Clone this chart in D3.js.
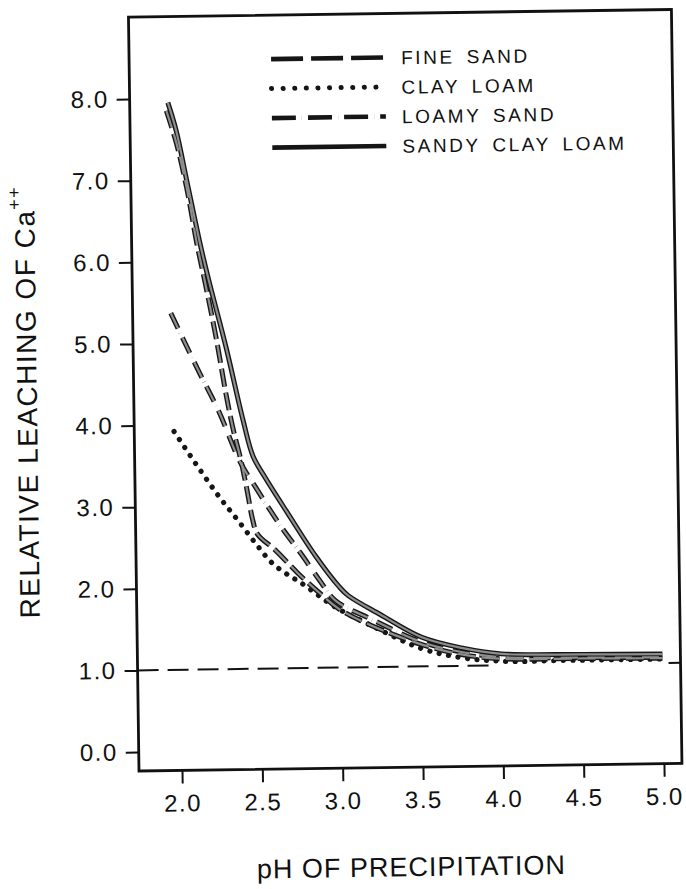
<!DOCTYPE html>
<html>
<head>
<meta charset="utf-8">
<script src="https://cdn.jsdelivr.net/npm/d3@7"></script>
<style>
body { margin: 0; background: #fff; }
svg { display: block; }
text { font-family: "Liberation Sans", Arial, Helvetica, sans-serif; fill: #111; }
</style>
</head>
<body>
<svg id="canvas" width="686" height="889"></svg>
<script>
// values: [pH, relative leaching]
let fineSand = [[1.96,7.85],[2.02,7.45],[2.08,6.9],[2.14,6.2],[2.19,5.7],[2.25,5.06],[2.31,4.33],[2.35,3.92],[2.39,3.59],[2.43,3.18],[2.46,2.84],[2.49,2.65],[2.6,2.45],[2.74,2.16],[2.87,1.92],[2.99,1.72],[3.18,1.52],[3.5,1.27],[3.75,1.14],[4.0,1.08],[4.5,1.07],[5.0,1.06]]
let clayLoam = [[1.98,3.92],[2.13,3.47],[2.26,3.1],[2.37,2.82],[2.48,2.53],[2.58,2.29],[2.68,2.14],[2.76,2.04],[2.97,1.74],[3.2,1.5],[3.5,1.22],[3.75,1.1],[4.0,1.05],[4.5,1.05],[5.0,1.05]]
let loamySand = [[1.97,5.37],[2.13,4.69],[2.26,4.16],[2.39,3.53],[2.49,3.2],[2.64,2.73],[2.76,2.4],[2.87,2.08],[2.97,1.82],[3.2,1.58],[3.5,1.3],[3.75,1.17],[4.0,1.1],[4.5,1.08],[5.0,1.07]]
let sandyClayLoam = [[1.97,7.95],[2.02,7.6],[2.08,7.0],[2.16,6.2],[2.21,5.76],[2.31,4.95],[2.41,4.05],[2.47,3.6],[2.54,3.35],[2.68,2.9],[2.85,2.37],[2.99,2.0],[3.05,1.88],[3.25,1.64],[3.5,1.36],[3.75,1.22],[4.0,1.14],[4.5,1.12],[5.0,1.11]]

let seriesNames = ["FINE SAND", "CLAY LOAM", "LOAMY SAND", "SANDY CLAY LOAM"]
let seriesData = [fineSand, clayLoam, loamySand, sandyClayLoam]
let seriesDash = ["18 6", "0.1 9.5", "17 5 0.1 5", null]

let xTicks = [2.0, 2.5, 3.0, 3.5, 4.0, 4.5, 5.0]
let yTicks = [0, 1, 2, 3, 4, 5, 6, 7, 8]
let referenceLevel = 1.0
let referenceBreak = [3.95, 5.0]

let svg = d3.select("#canvas")

let frameLeft = 139, frameRight = 682, frameTop = 17, frameBottom = 771

// the original is a slightly tilted scan
let chart = svg.append("g")
    .attr("transform", "rotate(-0.8," + frameLeft + "," + frameBottom + ")")

let x = d3.scaleLinear().domain([2, 5]).range([182, 664])
let y = d3.scaleLinear().domain([0, 8]).range([752, 99])

// frame
chart.append("path")
    .attr("d", "M" + frameLeft + "," + frameBottom + "V" + frameTop + "H" + frameRight + "V" + frameBottom + "Z")
    .attr("fill", "none")
    .attr("stroke", "#111")
    .attr("stroke-width", 2.8)

let xAxis = chart.append("g")
    .attr("transform", "translate(0," + frameBottom + ")")
    .call(d3.axisBottom(x).tickValues(xTicks).tickFormat(d3.format(".1f")).tickSize(13).tickPadding(11))
xAxis.select(".domain").remove()

let yAxis = chart.append("g")
    .attr("transform", "translate(" + frameLeft + ",0)")
    .call(d3.axisLeft(y).tickValues(yTicks).tickFormat(d3.format(".1f")).tickSize(13).tickPadding(8))
yAxis.select(".domain").remove()

chart.selectAll(".tick line").attr("stroke", "#111").attr("stroke-width", 2)
chart.selectAll(".tick text")
    .style("font-size", "24px")
    .style("letter-spacing", "1.5px")
    .attr("fill", "#111")

// reference line at 1.0, hidden where the curves run over it
chart.append("line")
    .attr("x1", frameLeft).attr("x2", x(referenceBreak[0]))
    .attr("y1", y(referenceLevel)).attr("y2", y(referenceLevel))
    .attr("stroke", "#111")
    .attr("stroke-width", 2)
    .attr("stroke-dasharray", "21 9")
chart.append("line")
    .attr("x1", x(referenceBreak[1]) + 6).attr("x2", frameRight)
    .attr("y1", y(referenceLevel)).attr("y2", y(referenceLevel))
    .attr("stroke", "#111")
    .attr("stroke-width", 2)

let line = d3.line()
    .x((d) => x(d[0]))
    .y((d) => y(d[1]))
    .curve(d3.curveCatmullRom.alpha(0.5))

seriesData.forEach((data, i) => {
    chart.append("path")
        .attr("d", line(data))
        .attr("fill", "none")
        .attr("stroke", "#161616")
        .attr("stroke-width", i == 1 ? 5.2 : 5)
        .attr("stroke-linecap", i == 1 ? "round" : "butt")
        .attr("stroke-dasharray", seriesDash[i])
})
seriesData.forEach((data, i) => {
    if (i != 1) {
        chart.append("path")
            .attr("d", line(data))
            .attr("fill", "none")
            .attr("stroke", "#8e8e8e")
            .attr("stroke-width", 2.2)
            .attr("stroke-dasharray", seriesDash[i])
    }
})

// legend
let legendDash = ["32 8", "0.1 11.5", "24 6 0.1 6", null]
let legend = chart.append("g")
seriesNames.forEach((name, i) => {
    let ly = 61 + i * 29.5
    legend.append("line")
        .attr("x1", 281).attr("x2", 395)
        .attr("y1", ly).attr("y2", ly)
        .attr("stroke", "#151515")
        .attr("stroke-width", i == 1 ? 5 : 4.6)
        .attr("stroke-linecap", i == 1 ? "round" : "butt")
        .attr("stroke-dasharray", legendDash[i])
    legend.append("text")
        .attr("x", 411)
        .attr("y", ly + 7)
        .style("font-size", "19px")
        .style("letter-spacing", "2.6px")
        .style("word-spacing", "4px")
        .text(name)
})

// axis titles
chart.append("text")
    .attr("x", 410)
    .attr("y", 880)
    .attr("text-anchor", "middle")
    .style("font-size", "27px")
    .style("letter-spacing", "1px")
    .text("pH OF PRECIPITATION")

let yTitle = chart.append("text")
    .attr("transform", "translate(42,184) rotate(-90)")
    .attr("text-anchor", "end")
    .style("font-size", "28px")
    .style("letter-spacing", "1.5px")
yTitle.append("tspan").text("RELATIVE LEACHING OF Ca")
yTitle.append("tspan")
    .attr("dy", -14)
    .style("font-size", "18px")
    .text("++")
</script>
</body>
</html>
